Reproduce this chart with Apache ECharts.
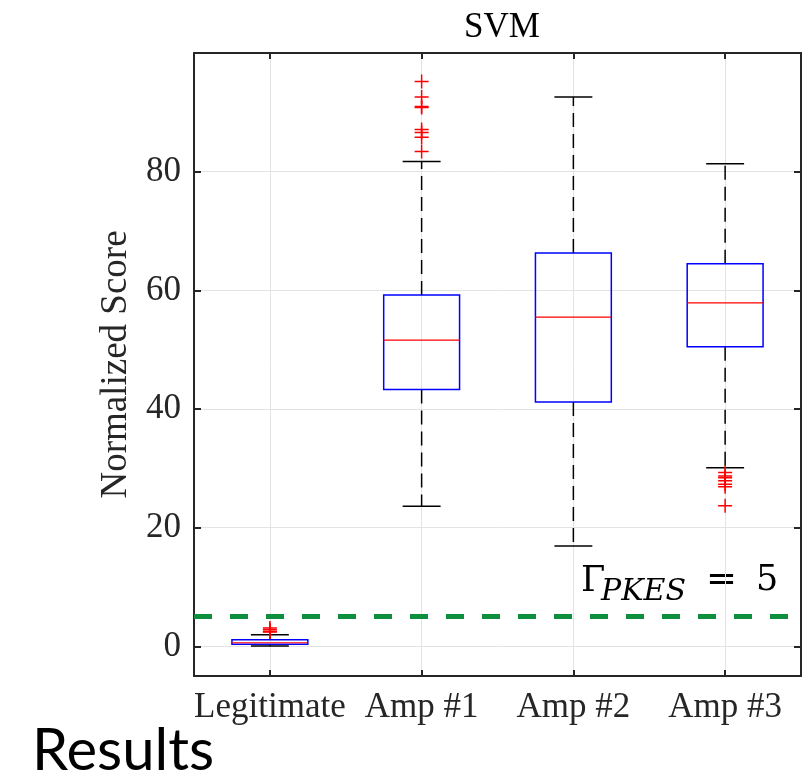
<!DOCTYPE html>
<html><head><meta charset="utf-8">
<script src="https://cdn.jsdelivr.net/npm/echarts@6/dist/echarts.min.js"></script>
<style>html,body{margin:0;padding:0;background:#fff}#c{width:808px;height:775px}</style>
</head><body><div id="c"></div>
<script>
const categories = ['Legitimate', 'Amp #1', 'Amp #2', 'Amp #3'];
const whiskerLow  = [0.05, 23.6, 16.9, 30.1];
const q1Values    = [0.35, 43.3, 41.2, 50.5];
const medians     = [0.6, 51.6, 55.5, 57.9];
const q3Values    = [1.1, 59.2, 66.3, 64.5];
const whiskerHigh = [1.95, 81.7, 92.6, 81.35];
const outliers = [
  [2.4, 2.5, 2.8, 3.1],
  [83.4, 85.8, 86.6, 87.1, 90.8, 91.0, 92.6, 95.2],
  [],
  [23.7, 26.9, 27.3, 27.9, 28.4, 28.7, 29.3]
];
const yTicks = [0, 20, 40, 60, 80];
const threshold = 5;

const boxData = categories.map((c, i) => [i, whiskerLow[i], q1Values[i], medians[i], q3Values[i], whiskerHigh[i]]);
const outlierData = [];
outliers.forEach((arr, i) => arr.forEach(v => outlierData.push([i, v])));

const axisColor = '#262626';
const serif = '"Liberation Serif", "Times New Roman", serif';

const chart = echarts.init(document.getElementById('c'), null, {renderer: 'canvas'});
chart.setOption({
  animation: false,
  backgroundColor: '#ffffff',
  title: {
    text: 'SVM', left: 497, textAlign: 'center', top: 5,
    textStyle: {fontFamily: serif, fontSize: 35, fontWeight: 'normal', color: '#000'}
  },
  grid: {left: 194, right: 7, top: 53, bottom: 99, containLabel: false},
  xAxis: [{
    type: 'category', data: categories, position: 'bottom',
    axisLine: {show: true, onZero: false, lineStyle: {color: axisColor, width: 2}},
    axisTick: {show: true, inside: true, alignWithLabel: true, length: 6, lineStyle: {color: axisColor, width: 2}},
    axisLabel: {fontFamily: serif, fontSize: 35, color: axisColor, margin: 14, interval: 0},
    splitLine: {show: true, alignWithLabel: true, lineStyle: {color: '#e3e3e3', width: 1}}
  }, {
    type: 'category', data: categories, position: 'top',
    axisLine: {show: true, onZero: false, lineStyle: {color: axisColor, width: 2}},
    axisTick: {show: true, inside: true, alignWithLabel: true, length: 6, lineStyle: {color: axisColor, width: 2}},
    axisLabel: {show: false}, splitLine: {show: false}
  }],
  yAxis: [{
    type: 'value', min: -5, max: 100, position: 'left',
    name: 'Normalized Score', nameLocation: 'middle', nameGap: 55,
    nameTextStyle: {fontFamily: serif, fontSize: 37, color: axisColor},
    axisLine: {show: true, onZero: false, lineStyle: {color: axisColor, width: 2}},
    axisTick: {show: true, inside: true, length: 7, customValues: yTicks, lineStyle: {color: axisColor, width: 2}},
    axisLabel: {fontFamily: serif, fontSize: 35, color: axisColor, margin: 13, customValues: yTicks},
    splitLine: {show: true, lineStyle: {color: '#e3e3e3', width: 1}}
  }, {
    type: 'value', min: -5, max: 100, position: 'right',
    axisLine: {show: true, onZero: false, lineStyle: {color: axisColor, width: 2}},
    axisTick: {show: true, inside: true, length: 7, customValues: yTicks, lineStyle: {color: axisColor, width: 2}},
    axisLabel: {show: false, customValues: yTicks}, splitLine: {show: false}
  }],
  series: [{
    type: 'custom',
    xAxisIndex: 0, yAxisIndex: 0,
    data: boxData,
    z: 3,
    renderItem: function (params, api) {
      const x = api.value(0);
      const pLow = api.coord([x, api.value(1)]);
      const pQ1 = api.coord([x, api.value(2)]);
      const pMed = api.coord([x, api.value(3)]);
      const pQ3 = api.coord([x, api.value(4)]);
      const pHigh = api.coord([x, api.value(5)]);
      const band = api.size([1, 0])[0];
      const bw = band * 0.5, cw = band * 0.25;
      const cx = pMed[0];
      const dash = {stroke: '#000', lineWidth: 1.5, lineDash: [14, 7]};
      const solid = {stroke: '#000', lineWidth: 1.5};
      return {
        type: 'group',
        children: [
          {type: 'line', shape: {x1: cx, y1: pQ3[1], x2: cx, y2: pHigh[1]}, style: dash},
          {type: 'line', shape: {x1: cx, y1: pQ1[1], x2: cx, y2: pLow[1]}, style: dash},
          {type: 'line', shape: {x1: cx - cw / 2, y1: pHigh[1], x2: cx + cw / 2, y2: pHigh[1]}, style: solid},
          {type: 'line', shape: {x1: cx - cw / 2, y1: pLow[1], x2: cx + cw / 2, y2: pLow[1]}, style: solid},
          {type: 'rect', shape: {x: cx - bw / 2, y: pQ3[1], width: bw, height: pQ1[1] - pQ3[1]},
            style: {fill: 'none', stroke: '#0000ff', lineWidth: 1.5}},
          {type: 'line', shape: {x1: cx - bw / 2, y1: pMed[1], x2: cx + bw / 2, y2: pMed[1]},
            style: {stroke: '#ff0000', lineWidth: 1.2}}
        ]
      };
    }
  }, {
    type: 'scatter',
    xAxisIndex: 0, yAxisIndex: 0,
    data: outlierData,
    symbol: 'path://M5,0 L5,10 M0,5 L10,5',
    symbolSize: 14,
    z: 4,
    itemStyle: {color: 'rgba(0,0,0,0)', borderColor: '#ff0000', borderWidth: 1.5, opacity: 1},
    markLine: {
      silent: true, symbol: ['none', 'none'],
      label: {show: false},
      lineStyle: {color: '#0e8f3e', width: 5, type: [18, 18]},
      data: [{yAxis: threshold}]
    }
  }],
  graphic: [
    {type: 'text', left: 581, top: 564, style: {text: 'Γ', font: '35px "DejaVu Serif"', fill: '#000'}},
    {type: 'text', left: 601, top: 577, style: {text: 'PKES', font: 'italic 30px "DejaVu Serif"', fill: '#000'}},
    {type: 'text', left: 706, top: 563, style: {text: '=', font: '37px "DejaVu Serif"', fill: '#000'}},
    {type: 'text', left: 756, top: 563, style: {text: '5', font: '35px "DejaVu Serif"', fill: '#000'}},
    {type: 'text', left: 32, top: 722, style: {text: 'Results', font: '58px Lato', fill: '#000'}}
  ]
});
</script></body></html>
